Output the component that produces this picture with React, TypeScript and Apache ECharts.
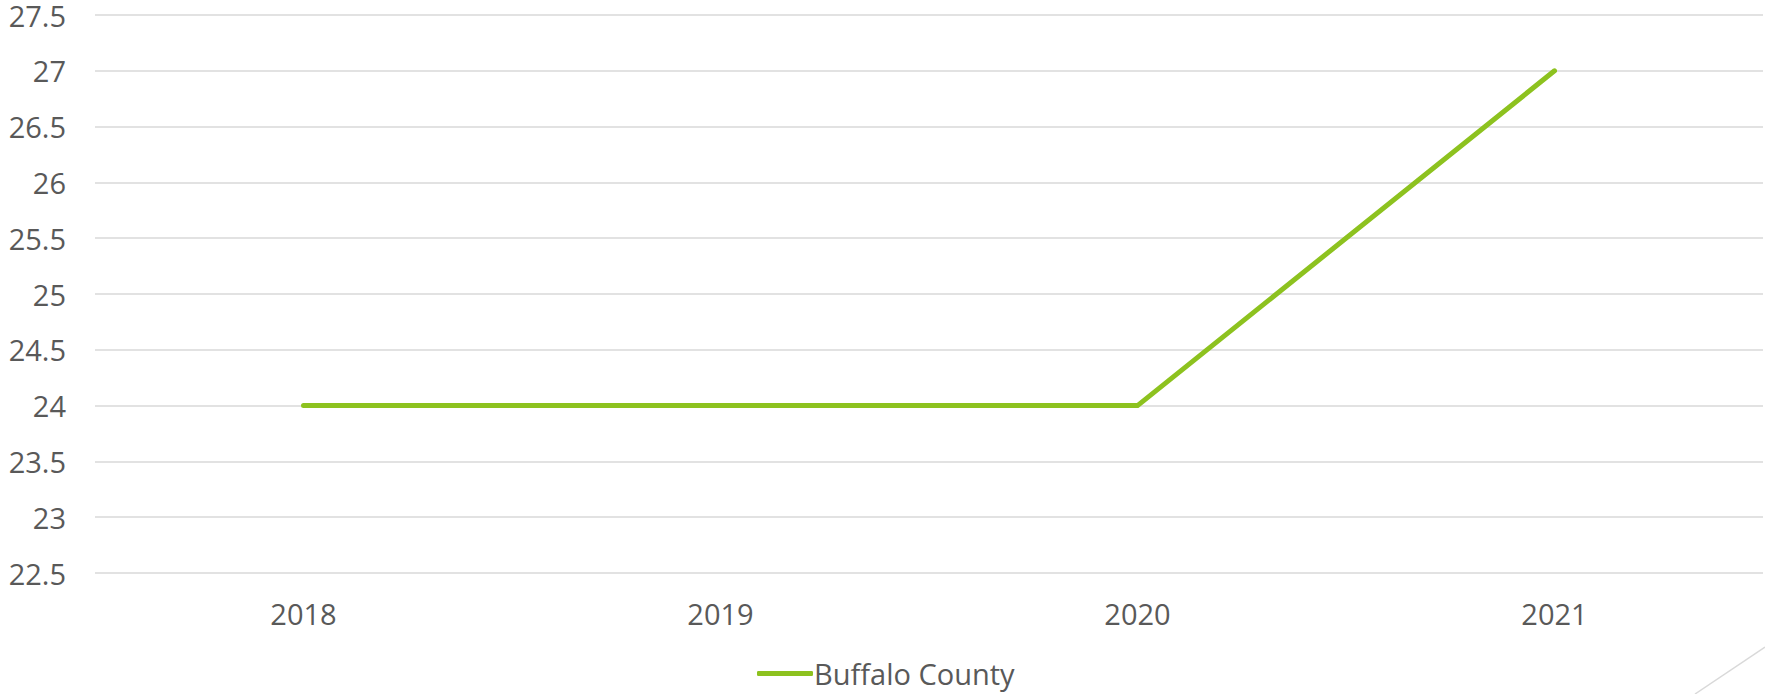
import React, { useEffect, useRef } from "react";
import * as echarts from "echarts";

const categories = ["2018", "2019", "2020", "2021"];
const buffaloCounty = [24, 24, 24, 27];
const seriesName = "Buffalo County";

const FONT = "'Open Sans', 'Noto Sans', sans-serif";
const TEXT = "#595959";

export default function App() {
  const ref = useRef<HTMLDivElement>(null);
  useEffect(() => {
    if (!ref.current) return;
    const chart = echarts.init(ref.current, undefined, { renderer: "svg" });
    chart.setOption({
      animation: false,
      backgroundColor: "#ffffff",
      grid: { left: 95, right: 2, top: 15, bottom: 121, containLabel: false },
      legend: {
        data: [seriesName],
        left: 752,
        top: 654,
        itemWidth: 56,
        itemHeight: 5,
        itemGap: 5,
        icon: "roundRect",
        textStyle: { color: TEXT, fontSize: 29, fontFamily: FONT, padding: [0, 0, 0, -4] },
      },
      xAxis: {
        type: "category",
        data: categories,
        boundaryGap: true,
        axisLine: { show: false },
        axisTick: { show: false },
        axisLabel: { color: TEXT, fontSize: 29, fontFamily: FONT, margin: 26 },
      },
      yAxis: {
        type: "value",
        min: 22.5,
        max: 27.5,
        interval: 0.5,
        axisLine: { show: false },
        axisTick: { show: false },
        splitLine: { lineStyle: { color: "#D9D9D9", width: 1.5 } },
        axisLabel: { color: TEXT, fontSize: 29, lineHeight: 28, fontFamily: FONT, margin: 29 },
      },
      series: [
        {
          name: seriesName,
          type: "line",
          data: buffaloCounty,
          symbol: "none",
          lineStyle: { color: "#8DC21F", width: 5, cap: "round", join: "round" },
          itemStyle: { color: "#8DC21F" },
        },
      ],
      graphic: [
        {
          type: "line",
          shape: { x1: 1765, y1: 647, x2: 1695, y2: 694 },
          style: { stroke: "#D9D9D9", lineWidth: 1.5 },
        },
      ],
    });
    return () => chart.dispose();
  }, []);
  return <div ref={ref} style={{ width: 1765, height: 694, position: "absolute", left: 0, top: 0 }} />;
}
